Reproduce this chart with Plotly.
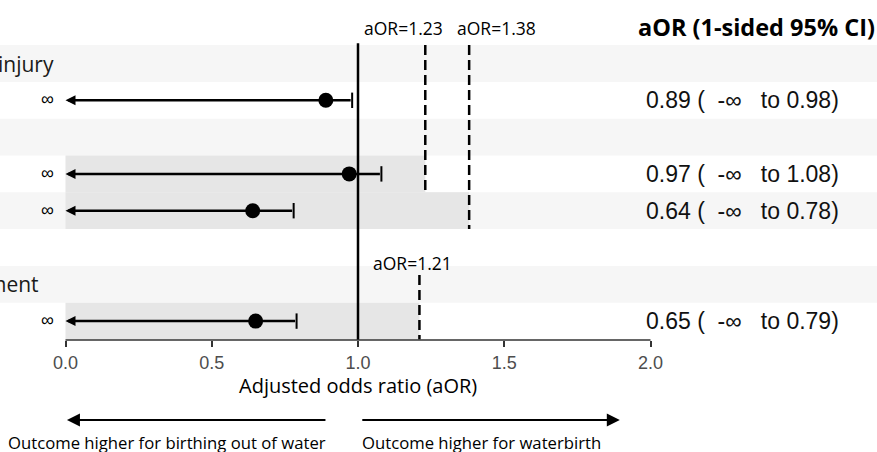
import plotly.graph_objects as go

# ---------------- data ----------------
header_rows = [0, 2, 6]
header_labels = ["injury", "", "ment"]

data_rows = [1, 3, 4, 7]
aor = [0.89, 0.97, 0.64, 0.65]
upper = [0.98, 1.08, 0.78, 0.79]

thr_values = [1.23, 1.38, 1.21]
thr_rows_top = [-0.5, -0.5, 5.75]
thr_rows_bottom = [3.5, 4.5, 7.5]
thr_shade_rows = [3, 4, 7]

tick_vals = [0, 0.5, 1, 1.5, 2]
tick_text = ["0.0", "0.5", "1.0", "1.5", "2.0"]

n_rows = 8

# ---------------- figure ----------------
W, H = 877, 452
x0px, xscale = 65.5, 292.5
y0px, ystep = 63.5, 36.8
plot_h = 340

xrange = [-x0px / xscale, (W - x0px) / xscale]
yrange = [(plot_h - y0px) / ystep, -y0px / ystep]

fig = go.Figure()

shapes = []
# row bands
for i in range(n_rows):
    if i % 2 == 0:
        shapes.append(dict(type="rect", xref="paper", yref="y", x0=0, x1=1,
                           y0=i - 0.5, y1=i + 0.5, fillcolor="#f6f6f6",
                           line=dict(width=0), layer="below"))
# shaded regions up to thresholds
for r, t in zip(thr_shade_rows, thr_values):
    shapes.append(dict(type="rect", xref="x", yref="y", x0=0, x1=t,
                       y0=r - 0.5, y1=r + 0.5, fillcolor="#e6e6e6",
                       line=dict(width=0), layer="below"))
# threshold dashed lines
for t, a, b in zip(thr_values, thr_rows_top, thr_rows_bottom):
    shapes.append(dict(type="line", xref="x", yref="y", x0=t, x1=t, y0=a, y1=b,
                       line=dict(color="black", width=2.5, dash="10px,5px")))
# reference line at 1
shapes.append(dict(type="line", xref="x", yref="y", x0=1, x1=1, y0=-0.55, y1=yrange[0],
                   line=dict(color="black", width=2.5)))
# axis line
shapes.append(dict(type="line", xref="x", yref="paper", x0=tick_vals[0], x1=tick_vals[-1],
                   y0=0, y1=0, line=dict(color="#333333", width=1.5)))

# points
fig.add_trace(go.Scatter(x=aor, y=data_rows, mode="markers",
                         marker=dict(symbol="circle", size=15, color="black"),
                         showlegend=False, hoverinfo="skip"))
# caps at upper CI
fig.add_trace(go.Scatter(x=upper, y=data_rows, mode="markers",
                         marker=dict(symbol="line-ns", size=11,
                                     line=dict(color="black", width=2)),
                         showlegend=False, hoverinfo="skip"))

ann = []
# CI arrows to -inf
for r, u in zip(data_rows, upper):
    ann.append(dict(x=0, y=r, xref="x", yref="y", ax=u, ay=r, axref="x", ayref="y",
                    text="", showarrow=True, arrowhead=2, arrowsize=0.8,
                    arrowwidth=2.5, arrowcolor="black", standoff=0))
    ann.append(dict(x=0, y=r, xref="x", yref="y", text="∞", showarrow=False,
                    xanchor="right", xshift=-10, yshift=1,
                    font=dict(family="Liberation Sans, Arial", size=18, color="black")))
# right-hand text
for r, a, u in zip(data_rows, aor, upper):
    txt = f"{a:.2f} (\u00a0\u00a0-∞\u00a0\u00a0 to {u:.2f})"
    ann.append(dict(x=644 / W, y=r, xref="paper", yref="y", text=txt, showarrow=False,
                    xanchor="left", yanchor="middle",
                    font=dict(family="Liberation Sans, Arial", size=23, color="#111111")))
# header labels (visible, left-cropped parts)
label_right_px = [56, 0, 41]
for r, lab, px in zip(header_rows, header_labels, label_right_px):
    if lab:
        ann.append(dict(x=px / W, y=r, xref="paper", yref="y", text=lab, showarrow=False,
                        xanchor="right", yanchor="middle",
                        font=dict(family="Open Sans", size=21, color="#1a1a1a")))
# threshold labels
thr_label_y = [-0.97, -0.97, 5.42]
thr_label_shift = [-22, 27, -7]
for t, yy, s in zip(thr_values, thr_label_y, thr_label_shift):
    ann.append(dict(x=t, y=yy, xref="x", yref="y", text=f"aOR={t:.2f}", showarrow=False,
                    xanchor="center", yanchor="middle", xshift=s,
                    font=dict(family="Open Sans", size=17.5, color="black")))
# title
ann.append(dict(x=1, y=-1.0, xref="paper", yref="y", text="<b>aOR (1-sided 95% CI)</b>",
                showarrow=False, xanchor="right", yanchor="middle", xshift=0,
                font=dict(family="Open Sans", size=23.5, color="black")))
# axis title
ann.append(dict(x=1, y=0, xref="x", yref="paper", text="Adjusted odds ratio (aOR)",
                showarrow=False, xanchor="center", yanchor="middle", yshift=-45,
                font=dict(family="Open Sans", size=20, color="black")))
# direction arrows
arrow_y = -80 / plot_h
ann.append(dict(x=0.005, y=arrow_y, xref="x", yref="paper", ax=260, ay=0,
                axref="pixel", ayref="pixel", text="", showarrow=True, arrowhead=2,
                arrowsize=1.3, arrowwidth=2, arrowcolor="black", standoff=0))
ann.append(dict(x=1.895, y=arrow_y, xref="x", yref="paper", ax=-259, ay=0,
                axref="pixel", ayref="pixel", text="", showarrow=True, arrowhead=2,
                arrowsize=1.3, arrowwidth=2, arrowcolor="black", standoff=0))
text_y = -102 / plot_h
ann.append(dict(x=328 / W, y=text_y, xref="paper", yref="paper",
                text="Outcome higher for birthing out of water", showarrow=False,
                xanchor="right", yanchor="middle",
                font=dict(family="Open Sans", size=16.7, color="black")))
ann.append(dict(x=360 / W, y=text_y, xref="paper", yref="paper",
                text="Outcome higher for waterbirth", showarrow=False,
                xanchor="left", yanchor="middle",
                font=dict(family="Open Sans", size=16.7, color="black")))

fig.update_layout(
    width=W, height=H,
    margin=dict(l=0, r=0, t=0, b=H - plot_h),
    paper_bgcolor="white", plot_bgcolor="rgba(0,0,0,0)",
    shapes=shapes, annotations=ann, showlegend=False,
    xaxis=dict(range=xrange, tickvals=tick_vals, ticktext=tick_text, ticks="outside",
               ticklen=6, tickwidth=1.5, tickcolor="#333333", showgrid=False,
               zeroline=False, showline=False,
               tickfont=dict(family="Liberation Sans, Arial", size=18, color="#4d4d4d")),
    yaxis=dict(range=yrange, showticklabels=False, ticks="", showgrid=False,
               zeroline=False, showline=False),
)

fig.write_html("out.html", config={"displayModeBar": False},
               post_script="document.body.style.margin='0';")
